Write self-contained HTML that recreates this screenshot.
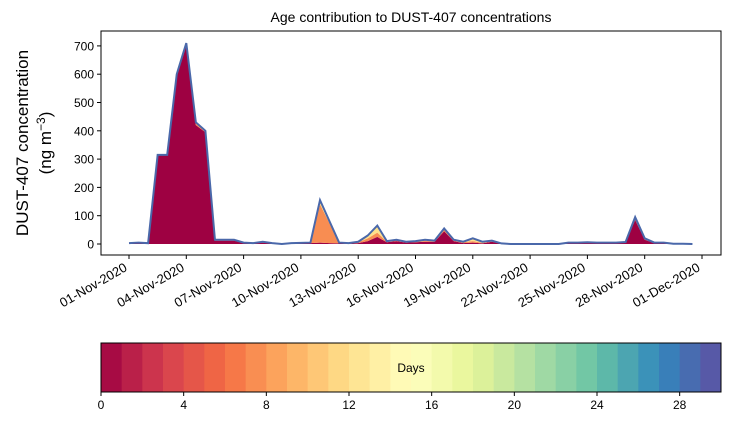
<!DOCTYPE html>
<html><head><meta charset="utf-8"><style>
body{margin:0;background:#fff;font-family:"Liberation Sans",sans-serif}
svg text{font-family:"Liberation Sans",sans-serif;fill:#000}
</style></head><body>
<svg id="c" width="730" height="425" viewBox="0 0 730 425" xmlns="http://www.w3.org/2000/svg">
<rect width="730" height="425" fill="#fff"/>
<text x="411" y="22" font-size="14" text-anchor="middle">Age contribution to DUST-407 concentrations</text>
<g id="plot"></g>
<g id="axes"></g>
<g id="cbar"></g>
<text transform="translate(28,143) rotate(-90)" font-size="17" text-anchor="middle">DUST-407 concentration</text>
<text transform="translate(51,143) rotate(-90)" font-size="17" text-anchor="middle">(ng m<tspan font-size="12" dy="-6">−3</tspan><tspan dy="6">)</tspan></text>
</svg>
<script>
// time in days since 01-Nov-2020
const days=[0,0.5,1,1.5,2,2.5,3,3.5,4,4.5,5,5.5,6,6.5,7,7.5,8,8.5,9,9.5,10,10.5,11,11.5,12,12.5,13,13.5,14,14.5,15,15.5,16,16.5,17,17.5,18,18.5,19,19.5,20,20.5,21,21.5,22,22.5,23,23.5,24,24.5,25,25.5,26,26.5,27,27.5,28,28.5,29,29.5];
const freshAge=[2,4,2,313,313,595,700,420,395,12,12,12,3,2,5,2,0,1,2,3,5,3,2,1,3,10,25,6,10,5,6,8,8,45,10,3,5,2,8,1,0,0,0,0,0,0,3,3,5,3,4,3,6,85,15,3,4,1,1,0];
const midAge=[1,1,1,1,1,4,7,6,4,2,2,2,1,1,2,1,0,1,1,2,135,70,2,1,3,10,15,2,3,2,2,3,2,6,3,3,5,2,2,1,0,0,0,0,0,0,1,1,1,1,1,1,1,6,3,1,1,0,0,0];
const oldAge=[0,0,0,1,1,1,3,4,1,1,1,1,1,0,1,0,0,1,1,0,15,7,1,1,2,10,25,2,2,1,2,4,2,4,2,2,10,4,2,0,0,0,0,0,0,0,1,1,0,1,0,1,0,4,2,1,0,0,0,0];
const yTicks=[0,100,200,300,400,500,600,700];
const xTickDays=[0,3,6,9,12,15,18,21,24,27,30];
const xTickLabels=["01-Nov-2020","04-Nov-2020","07-Nov-2020","10-Nov-2020","13-Nov-2020","16-Nov-2020","19-Nov-2020","22-Nov-2020","25-Nov-2020","28-Nov-2020","01-Dec-2020"];
const cbTicks=[0,4,8,12,16,20,24,28];

const NS="http://www.w3.org/2000/svg";
const L=101,R=721,T=31,B=255;
const X=d=>129+d*19.1;
const Y=v=>244-v*0.283;
function mk(tag,attrs,parent){const e=document.createElementNS(NS,tag);for(const k in attrs)e.setAttribute(k,attrs[k]);parent.appendChild(e);return e;}
const plot=document.getElementById('plot'),axes=document.getElementById('axes'),cb=document.getElementById('cbar');
const layers=[[freshAge,'#9e0142'],[midAge,'#f88d52'],[oldAge,'#fee08b']];
let base=days.map(()=>0);
layers.forEach(([arr,col],li)=>{
  const top=base.map((b,i)=>b+arr[i]);
  let d='M'+days.map((t,i)=>X(t)+','+Y(top[i])).join('L');
  for(let i=days.length-1;i>=0;i--)d+='L'+X(days[i])+','+Y(base[i]);
  const p=mk('path',{d:d+'Z',fill:col,stroke:'none'},plot);
  
  
  base=top;
});
const tl=mk('path',{d:'M'+days.map((t,i)=>X(t)+','+Y(base[i])).join('L'),fill:'none',stroke:'#4a68aa','stroke-width':2},plot);


const fr=mk('rect',{x:L,y:T,width:R-L,height:B-T,fill:'none',stroke:'#000','stroke-width':1},axes);


yTicks.forEach(v=>{
  mk('line',{x1:L-4,x2:L,y1:Y(v),y2:Y(v),stroke:'#000'},axes);
  const t=mk('text',{x:L-7,y:Y(v)+4.5,'font-size':12,'text-anchor':'end'},axes);t.textContent=v;
  
  
});
xTickDays.forEach((d,i)=>{
  mk('line',{x1:X(d),x2:X(d),y1:B,y2:B+4,stroke:'#000'},axes);
  const t=mk('text',{transform:`translate(${X(d)-1},${B+15}) rotate(-30)`,'font-size':13,'text-anchor':'end'},axes);t.textContent=xTickLabels[i];
  
  
});
const stops=['#9e0142','#d53e4f','#f46d43','#fdae61','#fee08b','#ffffbf','#e6f598','#abdda4','#66c2a5','#3288bd','#5e4fa2'];
function cmap(f){const p=f*10,i=Math.min(9,Math.floor(p)),r=p-i;const a=stops[i],b=stops[i+1];const h=(s,k)=>parseInt(s.substr(1+2*k,2),16);return 'rgb('+[0,1,2].map(k=>Math.round(h(a,k)+(h(b,k)-h(a,k))*r)).join(',')+')';}
const CL=101,CR=721,CT=343,CB=392,cw=(CR-CL)/30;
for(let i=0;i<30;i++){const r=mk('rect',{x:CL+i*cw,y:CT,width:cw+0.5,height:CB-CT,fill:cmap((i+0.5)/30)},cb);
  
  }
mk('rect',{x:CL,y:CT,width:CR-CL,height:CB-CT,fill:'none',stroke:'#000'},cb);
cbTicks.forEach(v=>{const x=CL+v*cw;mk('line',{x1:x,x2:x,y1:CB,y2:CB+4,stroke:'#000'},cb);
  const t=mk('text',{x:x,y:CB+17,'font-size':12,'text-anchor':'middle'},cb);t.textContent=v;
  
  });
const dl=mk('text',{x:411,y:372,'font-size':12,'text-anchor':'middle'},cb);dl.textContent='Days';


</script>
</body></html>
